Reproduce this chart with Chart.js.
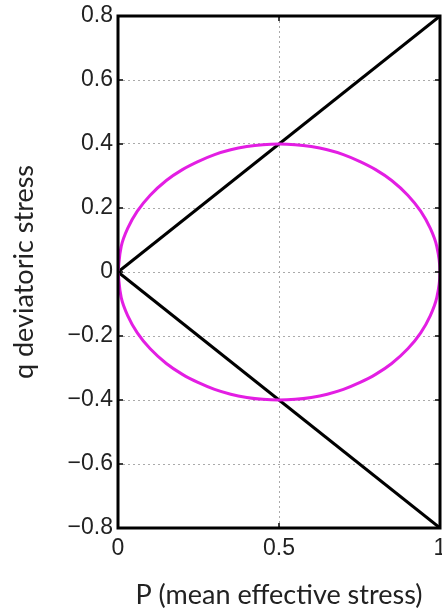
<!DOCTYPE html>
<html>
<head>
<meta charset="utf-8">
<script src="https://cdn.jsdelivr.net/npm/chart.js@4.4.1/dist/chart.umd.min.js"></script>
<style>
  html, body { margin: 0; padding: 0; background: #fff; }
  #wrap { width: 442px; height: 611px; }
</style>
</head>
<body>
<div id="wrap"><canvas id="grafica"></canvas></div>
<script>
// limites de las lineas rectas (origen -> esquinas)
const lineaSup = [{x: 0, y: 0}, {x: 1, y: 0.8}];
const lineaInf = [{x: 0, y: 0}, {x: 1, y: -0.8}];

// puntos de la elipse
const elipseX = [0, 0.01, 0.03, 0.06, 0.1, 0.15, 0.2, 0.25, 0.3, 0.35, 0.4, 0.45, 0.5,
                 0.55, 0.6, 0.65, 0.7, 0.75, 0.8, 0.85, 0.9, 0.94, 0.97, 0.99, 1,
                 0.99, 0.97, 0.94, 0.9, 0.85, 0.8, 0.75, 0.7, 0.65, 0.6, 0.55, 0.5,
                 0.45, 0.4, 0.35, 0.3, 0.25, 0.2, 0.15, 0.1, 0.06, 0.03, 0.01, 0];
const elipseY = [0, 0.08, 0.136, 0.19, 0.24, 0.286, 0.32, 0.346, 0.367, 0.382, 0.392, 0.398, 0.4,
                 0.398, 0.392, 0.382, 0.367, 0.346, 0.32, 0.286, 0.24, 0.19, 0.136, 0.08, 0,
                 -0.08, -0.136, -0.19, -0.24, -0.286, -0.32, -0.346, -0.367, -0.382, -0.392, -0.398, -0.4,
                 -0.398, -0.392, -0.382, -0.367, -0.346, -0.32, -0.286, -0.24, -0.19, -0.136, -0.08, 0];

const ticksX = [0, 0.5, 1];
const ticksY = [-0.8, -0.6, -0.4, -0.2, 0, 0.2, 0.4, 0.6, 0.8];

const elipse = elipseX.map((x, i) => ({x: x, y: elipseY[i]}));

function fmt(v) {
    let s = String(Math.round(v * 10) / 10);
    return s.replace('-', '\u2212');
}

// marco completo y marcas hacia dentro (estilo matlab)
const marco = {
    id: 'marco',
    afterDatasetsDraw(chart) {
        const {ctx, chartArea: a, scales} = chart;
        ctx.save();
        ctx.strokeStyle = '#000';
        ctx.lineWidth = 1.5;
        ctx.beginPath();
        ticksY.forEach(v => {
            const py = scales.y.getPixelForValue(v);
            ctx.moveTo(a.left, py); ctx.lineTo(a.left + 5, py);
            ctx.moveTo(a.right, py); ctx.lineTo(a.right - 5, py);
        });
        ticksX.forEach(v => {
            const px = scales.x.getPixelForValue(v);
            ctx.moveTo(px, a.bottom); ctx.lineTo(px, a.bottom - 5);
            ctx.moveTo(px, a.top); ctx.lineTo(px, a.top + 5);
        });
        ctx.stroke();
        ctx.lineWidth = 3;
        ctx.strokeRect(a.left, a.top, a.right - a.left, a.bottom - a.top);
        ctx.restore();
    }
};

let ctx = document.getElementById('grafica').getContext('2d');
new Chart(ctx, {
    type: 'scatter',
    data: {
        datasets: [
            {
                data: elipse,
                showLine: true,
                borderColor: '#e31ee3',
                borderWidth: 3,
                pointRadius: 0,
                tension: 0.4
            },
            {
                data: lineaSup,
                showLine: true,
                borderColor: '#000',
                borderWidth: 3,
                pointRadius: 0
            },
            {
                data: lineaInf,
                showLine: true,
                borderColor: '#000',
                borderWidth: 3,
                pointRadius: 0
            }
        ]
    },
    options: {
        responsive: true,
        maintainAspectRatio: false,
        animation: false,
        layout: { padding: { top: 16, right: 2, left: 0, bottom: 0 } },
        plugins: {
            legend: { display: false },
            tooltip: { enabled: false }
        },
        scales: {
            x: {
                type: 'linear',
                min: 0, max: 1,
                afterBuildTicks: s => { s.ticks = ticksX.map(v => ({value: v})); },
                afterFit: s => { s.height = 83; s.paddingRight = 0; s.paddingLeft = 0; },
                ticks: {
                    callback: v => fmt(v),
                    color: '#222',
                    font: { family: 'Liberation Sans', size: 23 },
                    padding: 7,
                    maxRotation: 0
                },
                grid: {
                    color: '#aaa',
                    lineWidth: 1,
                    drawTicks: false
                },
                border: { display: false, dash: [2, 3] },
                title: {
                    display: true,
                    text: 'P (mean effective stress)',
                    font: { family: 'Lato', size: 27 },
                    color: '#222',
                    padding: { top: 8, bottom: 0 }
                }
            },
            y: {
                type: 'linear',
                min: -0.8, max: 0.8,
                afterBuildTicks: s => { s.ticks = ticksY.map(v => ({value: v})); },
                afterFit: s => { s.width = 118; s.paddingTop = 0; s.paddingBottom = 0; },
                ticks: {
                    callback: v => fmt(v),
                    color: '#222',
                    font: { family: 'Liberation Sans', size: 23 },
                    padding: 5
                },
                grid: {
                    color: '#aaa',
                    lineWidth: 1,
                    drawTicks: false
                },
                border: { display: false, dash: [2, 3] },
                title: {
                    display: true,
                    text: 'q deviatoric stress',
                    font: { family: 'Lato', size: 27 },
                    color: '#222',
                    padding: { top: 8, bottom: 0 }
                }
            }
        }
    },
    plugins: [marco]
});
</script>
</body>
</html>
